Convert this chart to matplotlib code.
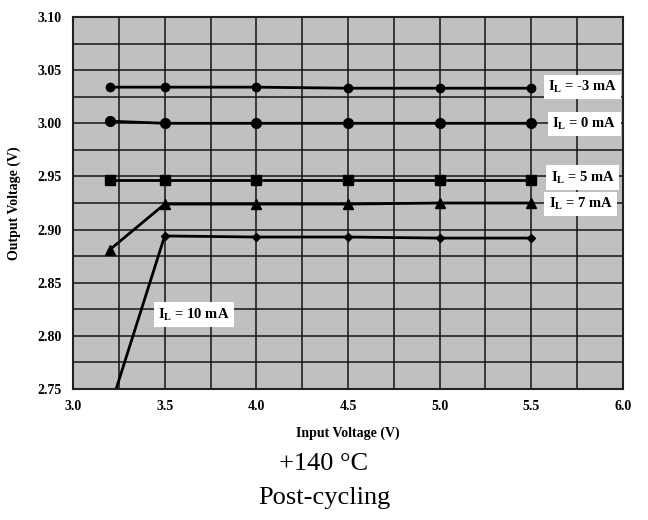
import matplotlib
matplotlib.use("Agg")
import matplotlib.pyplot as plt
import numpy as np

plt.rcParams['font.family'] = ['Liberation Serif', 'DejaVu Serif']
plt.rcParams['mathtext.fontset'] = 'custom'
plt.rcParams['mathtext.rm'] = 'Liberation Serif'
plt.rcParams['mathtext.bf'] = 'Liberation Serif:bold'
plt.rcParams['mathtext.it'] = 'Liberation Serif:italic'

vin = [3.2, 3.5, 4.0, 4.5, 5.0, 5.5]
i_m3 = [3.034, 3.034, 3.034, 3.033, 3.033, 3.033]
i_0 = [3.002, 3.000, 3.000, 3.000, 3.000, 3.000]
i_5 = [2.947, 2.947, 2.947, 2.947, 2.947, 2.947]
i_7 = [2.881, 2.924, 2.924, 2.924, 2.925, 2.925]
i_10 = [2.731, 2.894, 2.893, 2.893, 2.892, 2.892]

series = [
    (i_m3, 'o', 6, "I$_\\mathbf{L}$ = -3 mA", (5.78, 3.034)),
    (i_0, 'o', 7, "I$_\\mathbf{L}$ = 0 mA", (5.79, 2.9995)),
    (i_5, 's', 6.5, "I$_\\mathbf{L}$ = 5 mA", (5.78, 2.949)),
    (i_7, '^', 6.5, "I$_\\mathbf{L}$ = 7 mA", (5.77, 2.924)),
    (i_10, 'D', 4.5, "I$_\\mathbf{L}$ = 10 mA", (3.66, 2.820)),
]

fig = plt.figure(figsize=(6.48, 5.2), dpi=100)
ax = fig.add_axes([0.1127, 0.2519, 0.8487, 0.7154])
ax.set_facecolor('#c0c0c0')
ax.set_xlim(3.0, 6.0)
ax.set_ylim(2.75, 3.10)
ax.set_xticks(np.arange(3.0, 6.01, 0.5))
ax.set_yticks(np.arange(2.75, 3.101, 0.05))
ax.set_xticks(np.arange(3.0, 6.01, 0.25), minor=True)
ax.set_yticks(np.arange(2.75, 3.101, 0.025), minor=True)
ax.grid(True, which='both', color='#151515', lw=1.1)
ax.set_axisbelow(True)
ax.tick_params(which='both', length=0)
ax.set_xticklabels([f"{v:.1f}" for v in np.arange(3.0, 6.01, 0.5)], fontweight='bold', fontsize=10)
ax.set_yticklabels([f"{v:.2f}" for v in np.arange(2.75, 3.101, 0.05)], fontweight='bold', fontsize=10)
ax.tick_params(axis='x', pad=8)
ax.tick_params(axis='y', pad=8)
for s in ax.spines.values():
    s.set_linewidth(1.5)
    s.set_color('#222222')

for ys, m, ms, lab, pos in series:
    ax.plot(vin, ys, color='black', lw=2, marker=m, ms=ms, clip_on=True)
    ax.text(pos[0], pos[1], lab, ha='center', va='center', fontsize=10.5, fontweight='bold',
            bbox=dict(facecolor='white', edgecolor='none', pad=3), zorder=5)

ax.set_xlabel("Input Voltage (V)", fontweight='bold', fontsize=10, labelpad=10)
ax.set_ylabel("Output Voltage (V)", fontweight='bold', fontsize=10, labelpad=12)

fig.text(0.5, 0.108, "+140 °C", ha='center', va='center', fontsize=19)
fig.text(0.5, 0.042, "Post-cycling", ha='center', va='center', fontsize=19)

fig.savefig("out.png", dpi=100)
